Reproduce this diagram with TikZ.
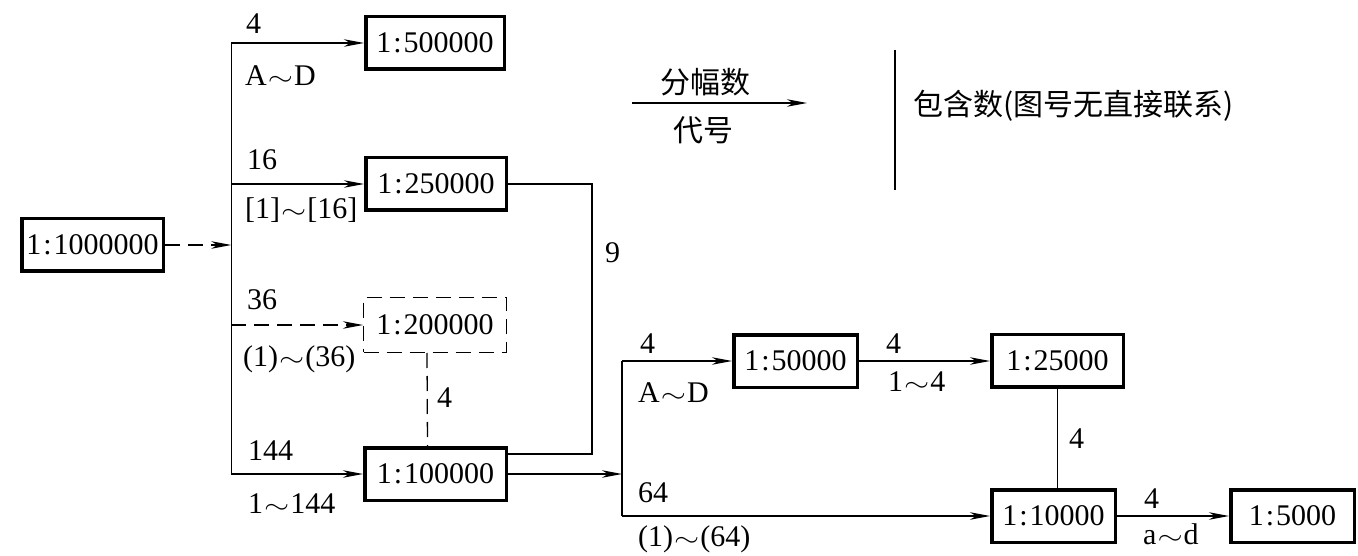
\documentclass[tikz,border=0pt]{standalone}
\usepackage{fontspec}
\setmainfont{Liberation Serif}
\newfontfamily\cjk{Noto Sans CJK SC}
\usepackage{graphicx}
\usepackage{tikz}
\usetikzlibrary{positioning, arrows.meta}

\newcommand{\mapscale}[1]{1\kern2pt:\kern2pt#1}
\newcommand{\wave}{\kern1pt\scalebox{1.3}[1]{$\sim$}\kern1pt}

\begin{document}
\begin{tikzpicture}[x=1pt, y=-1pt,
        every node/.style={font=\fontsize{30}{36}\selectfont},
        sheet/.style={rectangle, draw, line width=3.5pt, minimum height=52.5pt,
                      inner sep=0pt, align=center},
        sheetD/.style={rectangle, draw, line width=1.3pt, dash pattern=on 15pt off 8pt,
                       minimum height=54.7pt, inner sep=0pt, align=center},
        lbl/.style={inner sep=0pt, anchor=west},
        ln/.style={line width=1.3pt},
        arr/.style={line width=1.3pt, -{Stealth[length=20pt, width=7.5pt, inset=6pt]}},
        dsh/.style={dash pattern=on 15pt off 8pt},
      ]
        \useasboundingbox (0,0) rectangle (1358,556);

        \node[sheet, minimum width=141.5pt] (n1m) at (92.5,245) {\mapscale{1000000}};
        \node[sheet, minimum width=138.5pt] (n500k) at (435,43) {\mapscale{500000}};
        \node[sheet, minimum width=140.5pt] (n250k) at (436,184) {\mapscale{250000}};
        \node[sheetD, minimum width=142.7pt] (n200k) at (435,325) {\mapscale{200000}};
        \node[sheet, minimum width=141.5pt] (n100k) at (435.5,474) {\mapscale{100000}};
        \node[sheet, minimum width=123.5pt] (n50k) at (795.5,361) {\mapscale{50000}};
        \node[sheet, minimum width=131.5pt] (n25k) at (1057.5,360.5) {\mapscale{25000}};
        \node[sheet, minimum width=123.5pt] (n10k) at (1053.5,516) {\mapscale{10000}};
        \node[sheet, minimum width=123.5pt] (n5k) at (1292.5,516) {\mapscale{5000}};

        \coordinate (bus) at (231.3,245);
        \draw[ln] (bus |- n500k) -- (bus |- n100k);
        \draw[arr, dsh] (n1m) -- (bus);
        \draw[arr] (bus |- n500k) -- (n500k);
        \draw[arr] (bus |- n250k) -- (n250k);
        \draw[arr, dsh] (bus |- n200k) -- (n200k);
        \draw[arr] (bus |- n100k) -- (n100k);

        \node[lbl] (c500k) at (246,24) {4};
        \node[lbl] (k500k) at (245,76) {A\wave D};
        \node[lbl] (c250k) at (247,160) {16};
        \node[lbl] (k250k) at (245,210) {[1]\wave[16]};
        \node[lbl] (c200k) at (243,300) {\kern4pt36};
        \node[lbl] (k200k) at (243,359) {(1)\wave(36)};
        \node[lbl] (c100k) at (248,451) {144};
        \node[lbl] (k100k) at (248,504) {1\wave 144};

        \coordinate (ret) at (592,454);
        \draw[ln] (n250k.east) -| (ret) -- (ret -| n100k.east);
        \node[lbl] (cRet) at (605,253) {9};

        \draw[ln, dsh] ([xshift=-8pt]n200k.south) -- ([xshift=-8pt]n100k.north);
        \node[lbl] (cDsh) at (437,398) {4};

        \coordinate (bus2) at (622,474);
        \draw[arr] (n100k) -- (bus2);
        \draw[ln] (bus2 |- n50k) -- (bus2 |- n10k);
        \draw[arr] (bus2 |- n50k) -- (n50k);
        \draw[arr] (bus2 |- n10k) -- (n10k);
        \node[lbl] (c50k) at (640,344) {4};
        \node[lbl] (k50k) at (638,393) {A\wave D};
        \node[lbl] (c10k) at (638,493) {64};
        \node[lbl] (k10k) at (638,539) {(1)\wave(64)};

        \draw[arr] (n50k) -- (n50k -| n25k.west);
        \node[lbl] (c25k) at (886,344) {4};
        \node[lbl] (k25k) at (888,382) {1\wave 4};

        \draw[ln] (n25k.south) -- (n25k.south |- n10k.north);
        \node[lbl] (cVert) at (1069,439) {4};

        \draw[arr] (n10k) -- (n5k);
        \node[lbl] (c5k) at (1144,499) {4};
        \node[lbl] (k5k) at (1143,534) {a\wave d};

        \coordinate (keyA) at (632,103);
        \coordinate (keyB) at (807,103);
        \draw[arr] (keyA) -- (keyB);
        \node (keyTop) at (705,82) {\cjk 分幅数};
        \node (keyBot) at (703,130) {\cjk 代号};
        \coordinate (keyC) at (895,50);
        \coordinate (keyD) at (895,190);
        \draw[ln] (keyC) -- (keyD);
        \node[lbl] (keyTxt) at (913,106) {\cjk 包含数(图号无直接联系)};
      \end{tikzpicture}
\end{document}
